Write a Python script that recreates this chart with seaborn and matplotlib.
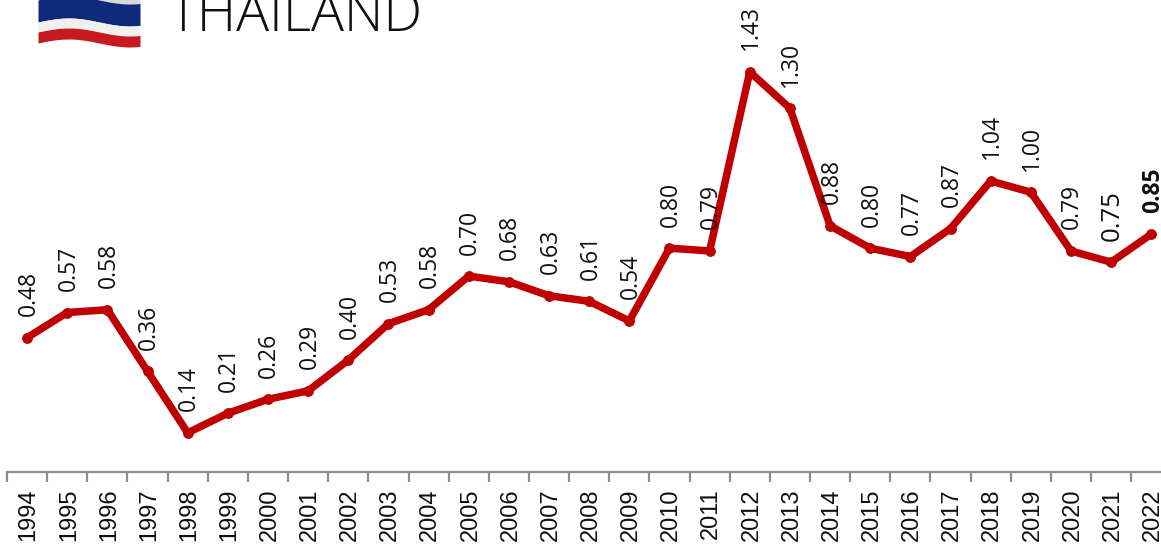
import numpy as np
import pandas as pd
import matplotlib
matplotlib.use("Agg")
import matplotlib.pyplot as plt
from matplotlib.transforms import ScaledTranslation
import seaborn as sns

years = list(range(1994, 2023))
values = [0.48, 0.57, 0.58, 0.36, 0.14, 0.21, 0.26, 0.29, 0.40, 0.53,
          0.58, 0.70, 0.68, 0.63, 0.61, 0.54, 0.80, 0.79, 1.43, 1.30,
          0.88, 0.80, 0.77, 0.87, 1.04, 1.00, 0.79, 0.75, 0.85]
title = "THAILAND"

W, H = 1161, 547
RED = "#C00000"
GREY = "#8C8C8C"

sns.set_theme(style="white")
df = pd.DataFrame({"pos": range(len(years)), "value": values})

fig = plt.figure(figsize=(W / 100, H / 100), dpi=100)
ax = fig.add_axes([7 / W, (H - 472) / H, (W - 7) / W, 472 / H])

sns.lineplot(data=df, x="pos", y="value", color=RED, lw=5.4, marker="o", ms=7,
             mec=RED, solid_joinstyle="round", ax=ax, clip_on=False)

ax.set_xlim(-0.5, (W - 7) / 40.15 - 0.5)
ax.set_ylim(0, 472 / 279.8)
ax.set_xlabel("")
ax.set_ylabel("")
ax.set_yticks([])
for s in ["top", "left", "right"]:
    ax.spines[s].set_visible(False)
ax.spines["bottom"].set_color(GREY)
ax.spines["bottom"].set_linewidth(1.6)

# year labels sit between the tick marks
ax.set_xticks(range(len(years)))
ax.set_xticklabels(years, rotation=90, fontsize=17, family="Liberation Sans", color="#111111")
ax.set_xticks(np.arange(len(years)) - 0.5, minor=True)
ax.tick_params(axis="x", which="major", length=0, pad=12)
ax.tick_params(axis="x", which="minor", length=7.5, width=1.6, color=GREY, bottom=True)
nudge = ScaledTranslation(1.2 / 72, 0, fig.dpi_scale_trans)
for lab in ax.get_xticklabels():
    lab.set_transform(lab.get_transform() + nudge)

for i, v in enumerate(values):
    size = 16.5
    weight = "normal"
    if years[i] == 2021:
        size = 18.5
    if years[i] == 2022:
        weight = "bold"
    ax.annotate(f"{v:.2f}", (i, v), xytext=(1, 15.5), textcoords="offset points",
                rotation=90, ha="center", va="bottom", fontsize=size, fontweight=weight,
                family="Open Sans", color="#111111", annotation_clip=False)

# title runs off the top of the picture like in the original
fig.text(169 / W, (H - 31) / H, title, fontsize=39.5, family="Open Sans", fontweight="light",
         color="#111111", ha="left", va="baseline")

# wavy flag
fx = fig.add_axes([38 / W, (H - 50) / H, 102 / W, 50 / H])
fx.set_xlim(0, 1)
fx.set_ylim(50, 0)
fx.axis("off")
t = np.linspace(0, 1, 80)
wave = 2 - 4 * np.cos(2 * np.pi * (t - 0.3) / 1.2)
bands = [(-20, -2, "#d8d8d8"), (-2, 20, "#0f2a7a"), (20, 30, "#f0f0f0"), (30, 41, "#c81a1e")]
for top, bot, col in bands:
    fx.fill_between(t, top + wave, bot + wave, color=col, lw=0)

fig.savefig("out.png", dpi=100, facecolor="white")
